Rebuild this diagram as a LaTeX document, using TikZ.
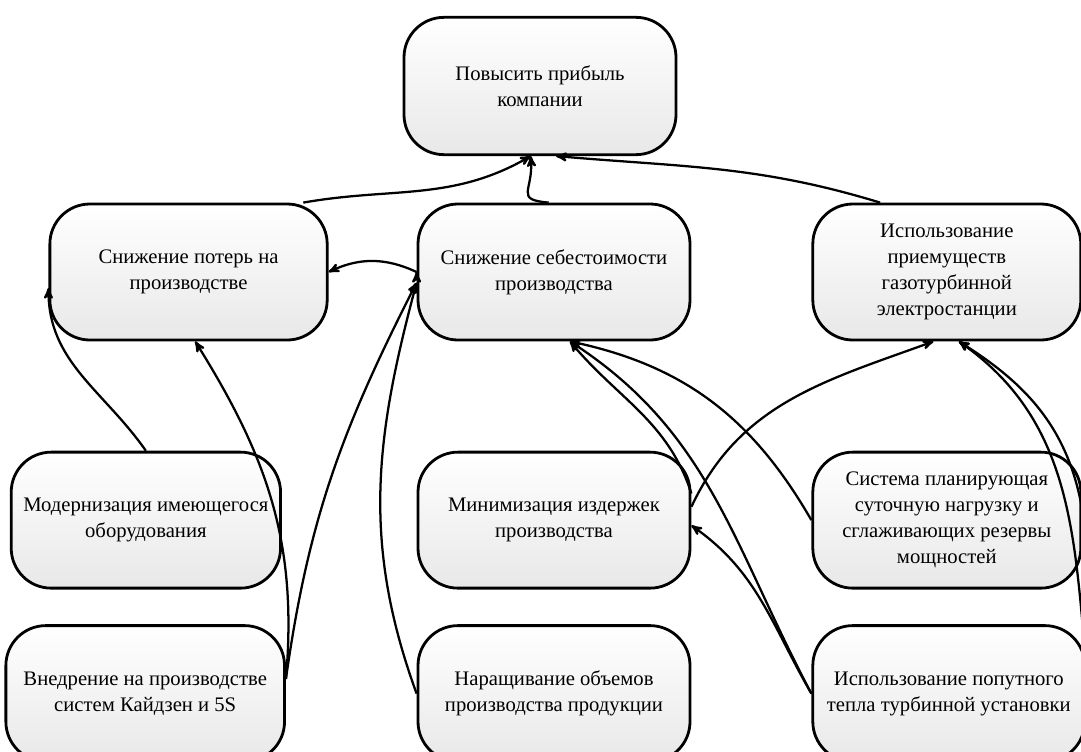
\documentclass[tikz,border=0pt]{standalone}
\usepackage{fontspec}
\setmainfont{Liberation Serif}
\usetikzlibrary{arrows}
\usetikzlibrary{positioning}

\begin{document}
\begin{tikzpicture}[->,
                    >=stealth',
                    x=0.75pt, y=0.75pt,
                    line width=1.7pt,
                    goal/.style={rectangle, rounded corners=30pt, draw, line width=2.1pt,
                                 top color=white, bottom color=gray!18,
                                 minimum width=204pt, minimum height=102pt, inner sep=2pt,
                                 align=center, font=\fontsize{15.5}{19.5}\selectfont}
                    ]
\useasboundingbox (0,0) rectangle (1081,-751);
\clip (0,0) rectangle (1081,-751);

% goal
\node[goal, minimum height=103pt] (1) at (540,-86) {Повысить прибыль\\компании};

% second level
\node[goal] (3) at (554,-272) {Снижение себестоимости\\производства};
\node[goal, minimum width=208pt] (2) [left=66pt of 3] {Снижение потерь на\\производстве};
\node[goal, minimum width=201pt] (4) [right=90pt of 3] {Использование\\приемуществ\\газотурбинной\\электростанции};

% third level
\node[goal] (6) [below=82pt of 3] {Минимизация издержек\\производства};
\node[goal, minimum width=202pt] (5) [left=101pt of 6] {Модернизация имеющегося\\оборудования};
\node[goal, minimum width=201pt] (7) [right=90pt of 6] {Система планирующая\\суточную нагрузку и\\сглаживающих резервы\\мощностей};

% fourth level
\node[goal] (9) [below=26pt of 6] {Наращивание объемов\\производства продукции};
\node[goal, minimum width=209pt] (8) [left=98pt of 9] {Внедрение на производстве\\систем Кайдзен и 5S};
\node[goal] (10) [right=90pt of 9] {Использование попутного\\тепла турбинной установки};

% into the goal
\draw ([xshift=-19pt]2.north east) to[out=10, in=-150] ([xshift=-7pt]1.south);
\draw ([xshift=-4pt]3.north) to[out=175, in=-85, looseness=1.8] ([xshift=-7pt]1.south);
\draw ([xshift=-50pt]4.north) to[out=163, in=-5] ([xshift=12pt]1.south);

% second level
\draw (3.west) edge[bend right=25] (2.east);

% from the third level
\draw (5.north) to[out=125, in=-90] ([yshift=-12pt]2.west);
\draw ([yshift=20pt]6.east) to[out=108, in=-50] ([xshift=12pt]3.south);
\draw ([yshift=10pt]6.east) to[out=65, in=-160] ([xshift=-10pt]4.south);
\draw (7.west) to[out=120, in=-12] ([xshift=12pt]3.south);
\draw ([yshift=8pt]7.east) to[out=100, in=-32] ([xshift=9pt]4.south);

% from the fourth level
\draw ([yshift=11pt]8.east) to[out=85, in=-58] ([xshift=5pt]2.south);
\draw ([yshift=11pt]8.east) to[out=82, in=-117] ([yshift=-8pt]3.west);
\draw (9.west) to[out=110, in=-105] ([yshift=-8pt]3.west);
\draw (10.west) to[out=118, in=-33] ([xshift=12pt]3.south);
\draw (10.west) to[out=120, in=-35] ([yshift=-4pt]6.east);
\draw ([yshift=20pt]10.east) to[out=95, in=-35] ([xshift=9pt]4.south);
\end{tikzpicture}
\end{document}
